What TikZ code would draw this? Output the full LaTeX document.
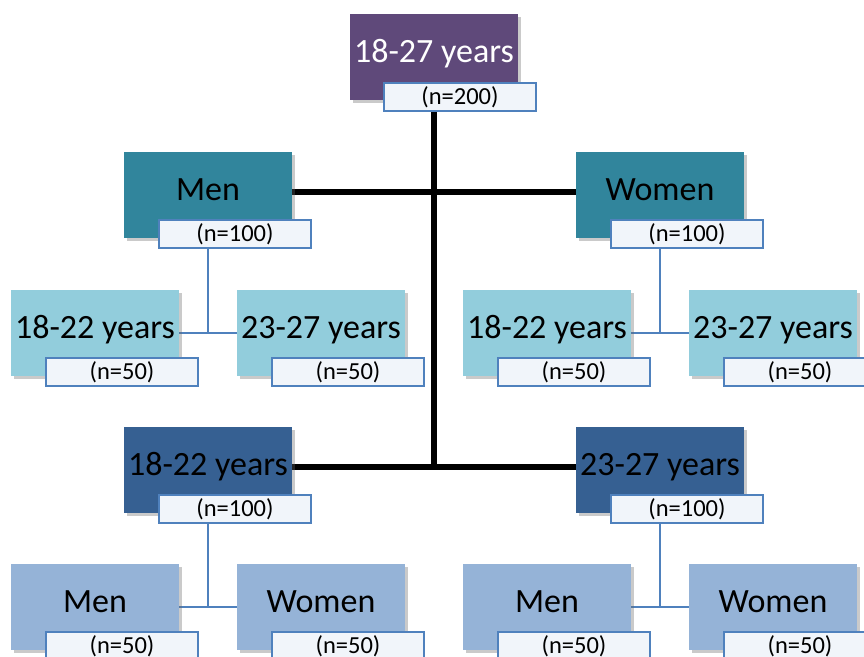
\documentclass[tikz,border=0pt]{standalone}
\usepackage{fontspec}
\setmainfont{Carlito}
\usetikzlibrary{shadows,backgrounds,calc}
\definecolor{cpurple}{HTML}{5F497A}
\definecolor{cteal}{HTML}{31859C}
\definecolor{clight}{HTML}{92CDDC}
\definecolor{cdark}{HTML}{366092}
\definecolor{cpale}{HTML}{95B3D7}
\definecolor{cline}{HTML}{4F81BD}
\definecolor{clab}{HTML}{F1F5FA}
\tikzset{
  x=1pt, y=-1pt,
  box/.style={rectangle, inner sep=0pt, minimum width=168pt, minimum height=86pt,
    text height=30pt, text depth=20pt, font=\fontsize{34}{36}\selectfont,
    drop shadow={shadow xshift=3pt, shadow yshift=-3pt, opacity=0.35, fill=black!60}},
  lab/.style={rectangle, draw=cline, line width=2pt, fill=clab, inner sep=0pt,
    minimum width=152pt, minimum height=28pt, font=\fontsize{24.5}{26}\selectfont},
  thick/.style={line width=6pt, black},
  thin/.style={line width=2pt, cline},
}
\begin{document}
\begin{tikzpicture}
\useasboundingbox (0,0) rectangle (864,656);
% top
\node[box, fill=cpurple, text=white] (top) at (434,57) {18-27 years};
\node[lab, anchor=north west] (topl) at (383,82) {(n=200)};
% level 2
\node[box, fill=cteal] (men) at (208,195) {Men};
\node[lab, anchor=north west] (menl) at (158,219) {(n=100)};
\node[box, fill=cteal] (wom) at (660,195) {Women};
\node[lab, anchor=north west] (woml) at (610,219) {(n=100)};
% level 3
\node[box, fill=clight] (ma) at (95,333) {18-22 years};
\node[lab, anchor=north west] (mal) at (45,357) {(n=50)};
\node[box, fill=clight] (mb) at (321,333) {23-27 years};
\node[lab, anchor=north west] (mbl) at (271,357) {(n=50)};
\node[box, fill=clight] (wa) at (547,333) {18-22 years};
\node[lab, anchor=north west] (wal) at (497,357) {(n=50)};
\node[box, fill=clight] (wb) at (773,333) {23-27 years};
\node[lab, anchor=north west] (wbl) at (723,357) {(n=50)};
% level 4
\node[box, fill=cdark] (ya) at (208,470) {18-22 years};
\node[lab, anchor=north west] (yal) at (158,494) {(n=100)};
\node[box, fill=cdark] (yb) at (660,470) {23-27 years};
\node[lab, anchor=north west] (ybl) at (610,494) {(n=100)};
% level 5
\node[box, fill=cpale] (ym) at (95,607) {Men};
\node[lab, anchor=north west] (yml) at (45,631) {(n=50)};
\node[box, fill=cpale] (yw) at (321,607) {Women};
\node[lab, anchor=north west] (ywl) at (271,631) {(n=50)};
\node[box, fill=cpale] (zm) at (547,607) {Men};
\node[lab, anchor=north west] (zml) at (497,631) {(n=50)};
\node[box, fill=cpale] (zw) at (773,607) {Women};
\node[lab, anchor=north west] (zwl) at (723,631) {(n=50)};
\begin{pgfonlayer}{background}
  \coordinate (j1) at (434,192);
  \coordinate (j2) at (434,467);
  \draw[thick] (top.south) -- (j2);
  \draw[thick] (men.east |- j1) -- (wom.west |- j1);
  \draw[thick] (ya.east |- j2) -- (yb.west |- j2);
  \draw[thin] (menl.south -| men.south) -- (men.south |- ma.east);
  \draw[thin] (ma.east) -- (mb.west);
  \draw[thin] (woml.south -| wom.south) -- (wom.south |- wa.east);
  \draw[thin] (wa.east) -- (wb.west);
  \draw[thin] (yal.south -| ya.south) -- (ya.south |- ym.east);
  \draw[thin] (ym.east) -- (yw.west);
  \draw[thin] (ybl.south -| yb.south) -- (yb.south |- zm.east);
  \draw[thin] (zm.east) -- (zw.west);
\end{pgfonlayer}
\end{tikzpicture}
\end{document}
